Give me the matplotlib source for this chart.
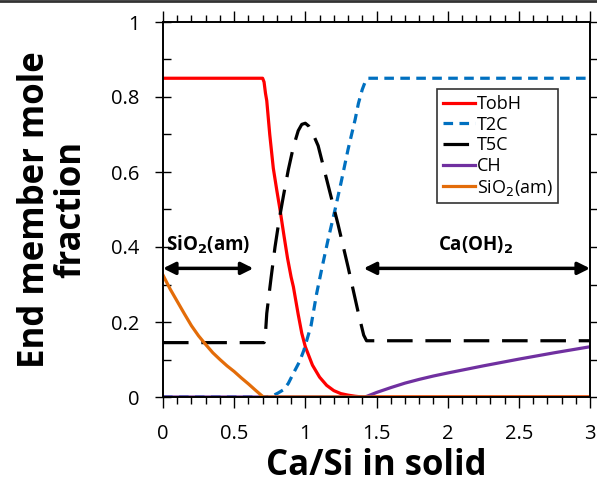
import matplotlib
matplotlib.use('Agg')
import matplotlib.pyplot as plt
from matplotlib.lines import Line2D
from matplotlib.ticker import MultipleLocator

plt.rcParams['font.family'] = ['Open Sans', 'DejaVu Sans']

# data
tobh_x = [0, 0.70, 0.71, 0.72, 0.729, 0.75, 0.775, 0.80, 0.822, 0.85, 0.875, 0.90, 0.916, 0.95, 0.975,
          1.00, 1.05, 1.10, 1.15, 1.20, 1.25, 1.30, 1.35, 1.40, 3.0]
tobh_y = [0.85, 0.85, 0.84, 0.81, 0.79, 0.70, 0.61, 0.55, 0.50, 0.43, 0.37, 0.32, 0.294, 0.22, 0.17,
          0.134, 0.085, 0.053, 0.031, 0.017, 0.009, 0.005, 0.002, 0.0, 0.0]

t2c_x = [0, 0.72, 0.75, 0.78, 0.81, 0.845, 0.88, 0.916, 0.96, 0.99, 1.04, 1.08, 1.12, 1.16, 1.209,
         1.25, 1.30, 1.35, 1.373, 1.40, 1.42, 1.44, 3.0]
t2c_y = [0, 0.0, 0.002, 0.005, 0.011, 0.019, 0.036, 0.063, 0.095, 0.125, 0.19, 0.277, 0.35, 0.42, 0.50,
         0.57, 0.66, 0.74, 0.783, 0.82, 0.84, 0.85, 0.85]

t5c_x = [0, 0.71, 0.717, 0.729, 0.76, 0.787, 0.815, 0.845, 0.88, 0.916, 0.95, 0.975, 1.00, 1.025,
         1.05, 1.09, 1.16, 1.23, 1.30, 1.373, 1.41, 1.43, 3.0]
t5c_y = [0.145, 0.145, 0.152, 0.223, 0.32, 0.40, 0.47, 0.534, 0.605, 0.667, 0.71, 0.727, 0.73, 0.722,
         0.705, 0.67, 0.565, 0.46, 0.347, 0.223, 0.165, 0.15, 0.15]

ch_x = [0, 1.42, 1.5, 1.6, 1.7, 1.8, 1.9, 2.0, 2.25, 2.5, 2.75, 3.0]
ch_y = [0, 0.0, 0.012, 0.025, 0.037, 0.047, 0.056, 0.064, 0.083, 0.101, 0.118, 0.134]

sio2_x = [0, 0.05, 0.1, 0.15, 0.2, 0.25, 0.3, 0.35, 0.4, 0.45, 0.5, 0.55, 0.6, 0.65, 0.705, 3.0]
sio2_y = [0.325, 0.288, 0.255, 0.222, 0.19, 0.163, 0.14, 0.118, 0.10, 0.083, 0.068, 0.051, 0.035, 0.018, 0.0, 0.0]

xtick_vals = [0, 0.5, 1, 1.5, 2, 2.5, 3]
xtick_labels = ['0', '0.5', '1', '1.5', '2', '2.5', '3']
ytick_vals = [0, 0.2, 0.4, 0.6, 0.8, 1.0]
ytick_labels = ['0', '0.2', '0.4', '0.6', '0.8', '1']

fig = plt.figure(figsize=(5.97, 4.86), dpi=100)
ax = fig.add_axes([163 / 597, (486 - 397) / 486, 427 / 597, 375 / 486])

lw = 2.3
ax.plot(tobh_x, tobh_y, color='#FF0000', lw=lw, label='TobH')
ax.plot(t2c_x, t2c_y, color='#0070C0', lw=lw, dashes=(3, 2), label='T2C')
ax.plot(t5c_x, t5c_y, color='black', lw=lw, dashes=(8, 4), label='T5C')
ax.plot(ch_x, ch_y, color='#7030A0', lw=lw, label='CH')
ax.plot(sio2_x, sio2_y, color='#E36C09', lw=lw, label='SiO$_2$(am)')

ax.set_xlim(0, 3)
ax.set_ylim(0, 1)
ax.set_xticks(xtick_vals)
ax.set_xticklabels(xtick_labels)
ax.xaxis.set_minor_locator(MultipleLocator(0.1))
ax.set_yticks(ytick_vals)
ax.set_yticklabels(ytick_labels)
ax.yaxis.set_minor_locator(MultipleLocator(0.1))

ax.tick_params(axis='x', which='both', direction='out', top=True, labelsize=14.5, width=1, pad=11.5)
ax.tick_params(axis='x', which='major', length=8)
ax.tick_params(axis='x', which='minor', length=5)
ax.tick_params(axis='y', which='major', direction='inout', length=12, width=1, labelsize=14.5, right=False, pad=11)
ax.tick_params(axis='y', which='minor', direction='in', length=6, width=1, right=False)

axr = ax.twinx()
axr.set_ylim(0, 1)
axr.set_yticks(ytick_vals)
axr.yaxis.set_minor_locator(MultipleLocator(0.1))
axr.tick_params(axis='y', which='both', direction='out', length=6, width=1, labelright=False)

for a in (ax, axr):
    for s in a.spines.values():
        s.set_linewidth(1.2)

ax.set_xlabel('Ca/Si in solid', fontsize=25, fontweight='bold', labelpad=3)
ax.set_ylabel('End member mole\nfraction', fontsize=25, fontweight='bold', labelpad=16, linespacing=1.0)

# phase region arrows
arrow_y = 0.343
ax.annotate('', xy=(0, arrow_y), xytext=(0.635, arrow_y),
            arrowprops=dict(arrowstyle='<|-|>', color='black', lw=2.5, mutation_scale=18, shrinkA=0, shrinkB=0))
ax.annotate('', xy=(1.41, arrow_y), xytext=(3.0, arrow_y),
            arrowprops=dict(arrowstyle='<|-|>', color='black', lw=2.5, mutation_scale=18, shrinkA=0, shrinkB=0))
ax.text(0.32, 0.405, 'SiO$_\\mathbf{2}$(am)', ha='center', va='center', fontsize=13.5, fontweight='bold')
ax.text(2.2, 0.405, 'Ca(OH)$_\\mathbf{2}$', ha='center', va='center', fontsize=13.5, fontweight='bold')

leg = ax.legend(loc='upper left', bbox_to_anchor=(0.642, 0.82), fontsize=13, frameon=True, fancybox=False,
                handlelength=1.8, handletextpad=0.1, borderpad=0.3, labelspacing=0.15, borderaxespad=0)
leg.get_frame().set_edgecolor('black')
leg.get_frame().set_linewidth(1.2)

fig.add_artist(Line2D([0, 1], [0.997, 0.997], color='#333333', lw=2, transform=fig.transFigure))

fig.savefig('out.png', dpi=100)
